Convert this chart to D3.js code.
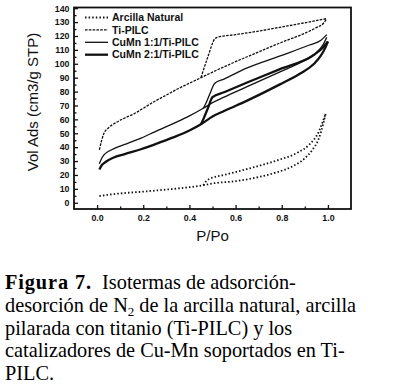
<!DOCTYPE html>
<html>
<head>
<meta charset="utf-8">
<script src="https://cdn.jsdelivr.net/npm/d3@7"></script>
<style>
  body { margin: 0; background: #fff; }
  svg { display: block; }
  .tick text { font-family: "Liberation Sans", Arial, sans-serif; font-size: 8.8px; font-weight: bold; fill: #111; }
  .legend text { font-family: "Liberation Sans", Arial, sans-serif; font-size: 10.5px; font-weight: bold; fill: #111; }
  .axis-title { font-family: "Liberation Sans", Arial, sans-serif; font-size: 15px; fill: #111; }
  .caption { font-family: "Liberation Serif", "Times New Roman", serif; font-size: 20.3px; fill: #000; }
</style>
</head>
<body>
<div id="chart"></div>
<script>
// datos  [P/Po, Vol Ads]
const arcillaAds = [[0.01,4.8],[0.05,5.8],[0.1,6.7],[0.2,8],[0.3,9.5],[0.4,11.2],[0.46,12.6],[0.5,13.9],[0.6,15.5],[0.7,18.5],[0.78,22],[0.85,26.5],[0.9,32],[0.93,37.5],[0.96,46],[0.98,57],[0.99,64]]
const arcillaDes = [[0.46,12.6],[0.47,15],[0.49,17.4],[0.55,20],[0.63,23.4],[0.7,26.5],[0.78,30.5],[0.87,36.2],[0.92,42],[0.96,51],[0.97,55],[0.99,64]]

const tiAds = [[0.01,38],[0.02,45],[0.03,50],[0.05,54],[0.08,57.5],[0.12,61],[0.16,64],[0.2,68],[0.25,73],[0.3,77.5],[0.35,82],[0.4,86],[0.45,90],[0.5,94],[0.6,101.5],[0.7,108.5],[0.8,115.5],[0.9,122],[0.95,126],[0.98,129],[0.995,132.5]]
const tiDes = [[0.45,90],[0.48,105],[0.51,118],[0.52,119],[0.6,121],[0.7,123.5],[0.8,126.5],[0.9,129.5],[0.995,132.5]]

const cu11Ads = [[0.01,28],[0.02,32],[0.03,34.5],[0.05,37],[0.08,39.5],[0.12,42],[0.19,46.5],[0.25,51],[0.33,57],[0.4,62.5],[0.46,68],[0.5,72],[0.55,76],[0.65,83.5],[0.79,94],[0.9,102.5],[0.95,108],[0.98,114],[0.995,119]]
const cu11Des = [[0.46,68],[0.47,71],[0.49,79],[0.51,86],[0.55,89],[0.65,97],[0.79,105.5],[0.92,113.5],[0.97,117],[0.995,121]]

const cu21Ads = [[0.01,24],[0.02,27],[0.03,28.5],[0.07,32.4],[0.12,35],[0.19,38.5],[0.25,42],[0.33,47],[0.4,52],[0.45,56.5],[0.5,62],[0.55,66],[0.65,73.5],[0.79,85],[0.88,93],[0.94,100],[0.97,106],[0.99,112],[1.0,116]]
const cu21Des = [[0.45,56.5],[0.46,60],[0.48,68],[0.5,76],[0.55,79.5],[0.65,86.5],[0.79,96],[0.94,106.5],[0.98,112],[1.0,116]]

const legendNames = ['Arcilla Natural', 'Ti-PILC', 'CuMn 1:1/Ti-PILC', 'CuMn 2:1/Ti-PILC']
const xTickLabels = [0.0, 0.2, 0.4, 0.6, 0.8, 1.0]
const yTickLabels = d3.range(0, 141, 10)

const captionLines = [
  'Isotermas de adsorción-',
  'desorción de N|2| de la arcilla natural, arcilla',
  'pilarada con titanio (Ti-PILC) y los',
  'catalizadores de Cu-Mn soportados en Ti-',
  'PILC.'
]

const width = 394, height = 392
const margin = {top: 7.5, left: 74, right: 43, bottom: 183}
const innerWidth = width - margin.left - margin.right
const innerHeight = height - margin.top - margin.bottom

const svg = d3.select('#chart').append('svg')
  .attr('width', width)
  .attr('height', height)

const g = svg.append('g')
  .attr('transform', `translate(${margin.left},${margin.top})`)

const xScale = d3.scaleLinear().domain([-0.1, 1.1]).range([0, innerWidth])
const yScale = d3.scaleLinear().domain([-4.5, 140.5]).range([innerHeight, 0])

// ticks menores (sin texto)
const xAxisMinor = d3.axisBottom(xScale).tickValues(d3.range(0.1, 1.0, 0.2)).tickSize(-2.5)
const yAxisMinor = d3.axisLeft(yScale).tickValues(d3.range(5, 140, 10)).tickSize(-2.5)
g.append('g').attr('transform', `translate(0,${innerHeight})`).call(xAxisMinor)
  .call(a => a.selectAll('text').remove())
g.append('g').call(yAxisMinor)
  .call(a => a.selectAll('text').remove())

const xAxis = d3.axisBottom(xScale)
  .tickValues(xTickLabels)
  .tickSize(-4)
  .tickPadding(6)
  .tickFormat(d3.format('.1f'))
const yAxis = d3.axisLeft(yScale)
  .tickValues(yTickLabels)
  .tickSize(-4)
  .tickPadding(4.5)

g.append('g').attr('transform', `translate(0,${innerHeight})`).call(xAxis)
g.append('g').call(yAxis)
g.selectAll('.domain').remove()
g.selectAll('.tick line').attr('stroke', '#111').attr('stroke-width', 1.3)

g.append('rect')
  .attr('width', innerWidth)
  .attr('height', innerHeight)
  .attr('fill', 'none')
  .attr('stroke', '#111')
  .attr('stroke-width', 1.8)

const line = d3.line()
  .x(d => xScale(d[0]))
  .y(d => yScale(d[1]))
  .curve(d3.curveMonotoneX)

const styles = [
  {dash: '1.5,2.1', w: 1.8},
  {dash: '2.6,1.2', w: 1.3},
  {dash: null, w: 1.3},
  {dash: null, w: 2.3}
]
const series = [
  [arcillaAds, arcillaDes],
  [tiAds, tiDes],
  [cu11Ads, cu11Des],
  [cu21Ads, cu21Des]
]

series.forEach((branches, i) => {
  branches.forEach(b => {
    g.append('path')
      .attr('d', line(b))
      .attr('fill', 'none')
      .attr('stroke', '#111')
      .attr('stroke-width', styles[i].w)
      .attr('stroke-dasharray', styles[i].dash)
  })
})

// leyenda
const legendG = g.append('g').attr('class', 'legend')
legendG.selectAll('line').data(legendNames).join('line')
  .attr('x1', 11).attr('x2', 34)
  .attr('y1', (_, i) => 10 + 12.4 * i)
  .attr('y2', (_, i) => 10 + 12.4 * i)
  .attr('stroke', '#111')
  .attr('stroke-width', (_, i) => styles[i].w)
  .attr('stroke-dasharray', (_, i) => styles[i].dash)
legendG.selectAll('text').data(legendNames).join('text')
  .attr('x', 38)
  .attr('y', (_, i) => 10 + 12.4 * i)
  .attr('dy', '0.35em')
  .text(d => d)

// titulos de ejes
svg.append('text')
  .attr('class', 'axis-title')
  .attr('text-anchor', 'middle')
  .attr('transform', `translate(38,102) rotate(-90)`)
  .text('Vol Ads (cm3/g STP)')

svg.append('text')
  .attr('class', 'axis-title')
  .attr('text-anchor', 'middle')
  .attr('x', margin.left + xScale(0.5))
  .attr('y', 241)
  .text('P/Po')

// pie de figura
const cap = svg.append('g')
captionLines.forEach((ln, i) => {
  const t = cap.append('text')
    .attr('class', 'caption')
    .attr('x', 5)
    .attr('y', 289 + 22.8 * i)
  if (i === 0) {
    t.append('tspan').attr('font-weight', 'bold').attr('letter-spacing', '0.9px').text('Figura 7.')
    t.append('tspan').text('\u00a0 ')
  }
  ln.split('|').forEach((part, j) => {
    if (j === 1) {
      t.append('tspan').attr('font-size', '13px').attr('dy', 4).text(part)
    } else if (j === 2) {
      t.append('tspan').attr('dy', -4).text(part)
    } else {
      t.append('tspan').text(part)
    }
  })
})
</script>
</body>
</html>
